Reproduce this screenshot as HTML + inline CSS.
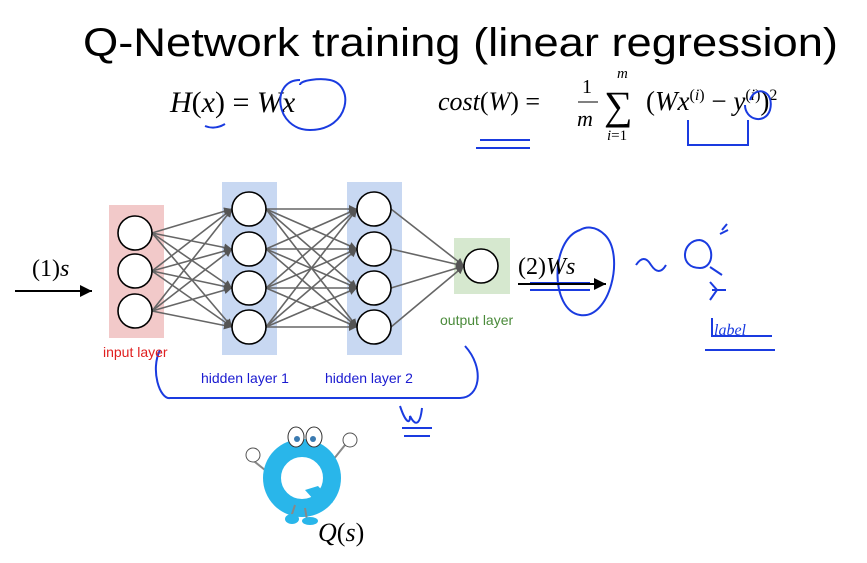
<!DOCTYPE html>
<html><head><style>
body{margin:0;background:#fff;width:867px;height:563px;overflow:hidden}
svg{display:block}
.m{font-family:"Liberation Serif",serif;font-style:italic}
.r{font-family:"Liberation Serif",serif}
.s{font-family:"Liberation Sans",sans-serif}
</style></head><body>
<svg width="867" height="563" viewBox="0 0 867 563" xmlns="http://www.w3.org/2000/svg">
<defs><marker id="a" viewBox="0 0 10 10" refX="10" refY="5" markerWidth="5" markerHeight="5" orient="auto"><path d="M0,0L10,5L0,10z" fill="#555"/></marker>
<marker id="b" viewBox="0 0 10 10" refX="10" refY="5" markerWidth="6" markerHeight="6" orient="auto"><path d="M0,0L10,5L0,10z" fill="#000"/></marker></defs>
<text x="83" y="56" class="s" font-size="40" fill="#000" textLength="755" lengthAdjust="spacingAndGlyphs">Q-Network training (linear regression)</text>
<text x="170" y="112" font-size="30"><tspan class="m">H</tspan><tspan class="r">(</tspan><tspan class="m">x</tspan><tspan class="r">) = </tspan><tspan class="m">Wx</tspan></text>
<text x="438" y="110" font-size="26"><tspan class="m">cost</tspan><tspan class="r">(</tspan><tspan class="m">W</tspan><tspan class="r">) =</tspan></text>
<text x="582" y="93" class="r" font-size="20">1</text><line x1="578" y1="102" x2="598" y2="102" stroke="#000"/>
<text x="577" y="126" class="m" font-size="22">m</text>
<text x="604" y="119" class="r" font-size="40">∑</text>
<text x="617" y="78" class="m" font-size="15">m</text>
<text x="607" y="140" font-size="15"><tspan class="m">i</tspan><tspan class="r">=1</tspan></text>
<text x="646" y="110" font-size="27"><tspan class="r">(</tspan><tspan class="m">Wx</tspan><tspan class="r" font-size="16" dy="-10">(</tspan><tspan class="m" font-size="16">i</tspan><tspan class="r" font-size="16">)</tspan><tspan class="r" dy="10"> − </tspan><tspan class="m">y</tspan><tspan class="r" font-size="16" dy="-10">(</tspan><tspan class="m" font-size="16">i</tspan><tspan class="r" font-size="16">)</tspan><tspan class="r" dy="10">)</tspan><tspan class="r" font-size="16" dy="-10">2</tspan></text>
<g fill="none" stroke="#1a3be0" stroke-width="2">
<path d="M205,126q10,4 20,-2"/><path d="M300,80c-30,0 -25,50 10,50c40,0 45,-45 20,-50c-10,-2 -30,0 -30,5"/>
<path d="M480,140h50M476,148h54"/><path d="M688,120v25h60v-25"/><path d="M750,100c5,-15 25,-10 20,10c-5,15 -25,10 -25,-5"/>
<path d="M580,230c-30,10 -30,80 0,85c30,5 45,-60 25,-80c-10,-10 -20,-8 -25,-5"/>
<path d="M530,283h60M530,290h60"/><path d="M636,265q8,-12 15,0q8,12 15,0"/>
<path d="M700,240c-18,0 -22,28 0,28c15,0 15,-25 0,-28M710,267l12,8M722,230l5,-6M720,234l8,-4"/>
<path d="M710,282l7,8l-7,10M712,290h14M712,318v18h60M705,350h70"/>
<path d="M160,350c-10,20 0,50 10,48h290c20,0 25,-30 5,-52"/>
<path d="M400,406c5,15 10,20 10,10c5,10 10,10 12,-8M402,428h30M404,436h26"/>
</g>
<text x="714" y="335" font-size="16" fill="#1a3be0" font-style="italic" class="r">label</text>
<rect x="109" y="205" width="55" height="133" fill="#f2c9c9"/>
<rect x="222" y="182" width="55" height="173" fill="#c8d8f2"/>
<rect x="347" y="182" width="55" height="173" fill="#c8d8f2"/>
<rect x="454" y="238" width="56" height="56" fill="#d6e8cf"/>
<g stroke="#666" stroke-width="1.6" marker-end="url(#a)">
<line x1="152" y1="233" x2="232" y2="209"/><line x1="152" y1="233" x2="232" y2="249"/><line x1="152" y1="233" x2="232" y2="288"/><line x1="152" y1="233" x2="232" y2="327"/>
<line x1="152" y1="271" x2="232" y2="209"/><line x1="152" y1="271" x2="232" y2="249"/><line x1="152" y1="271" x2="232" y2="288"/><line x1="152" y1="271" x2="232" y2="327"/>
<line x1="152" y1="311" x2="232" y2="209"/><line x1="152" y1="311" x2="232" y2="249"/><line x1="152" y1="311" x2="232" y2="288"/><line x1="152" y1="311" x2="232" y2="327"/>
<line x1="266" y1="209" x2="357" y2="209"/><line x1="266" y1="209" x2="357" y2="249"/><line x1="266" y1="209" x2="357" y2="288"/><line x1="266" y1="209" x2="357" y2="327"/>
<line x1="266" y1="249" x2="357" y2="209"/><line x1="266" y1="249" x2="357" y2="249"/><line x1="266" y1="249" x2="357" y2="288"/><line x1="266" y1="249" x2="357" y2="327"/>
<line x1="266" y1="288" x2="357" y2="209"/><line x1="266" y1="288" x2="357" y2="249"/><line x1="266" y1="288" x2="357" y2="288"/><line x1="266" y1="288" x2="357" y2="327"/>
<line x1="266" y1="327" x2="357" y2="209"/><line x1="266" y1="327" x2="357" y2="249"/><line x1="266" y1="327" x2="357" y2="288"/><line x1="266" y1="327" x2="357" y2="327"/>
<line x1="391" y1="209" x2="464" y2="266"/><line x1="391" y1="249" x2="464" y2="266"/><line x1="391" y1="288" x2="464" y2="266"/><line x1="391" y1="327" x2="464" y2="266"/>
</g>
<g fill="#fff" stroke="#000" stroke-width="1.6">
<circle cx="135" cy="233" r="17"/><circle cx="135" cy="271" r="17"/><circle cx="135" cy="311" r="17"/>
<circle cx="249" cy="209" r="17"/><circle cx="249" cy="249" r="17"/><circle cx="249" cy="288" r="17"/><circle cx="249" cy="327" r="17"/>
<circle cx="374" cy="209" r="17"/><circle cx="374" cy="249" r="17"/><circle cx="374" cy="288" r="17"/><circle cx="374" cy="327" r="17"/>
<circle cx="481" cy="266" r="17"/>
</g>
<text x="103" y="357" class="s" font-size="14" fill="#e02020">input layer</text>
<text x="201" y="383" class="s" font-size="14" fill="#1a1ad0">hidden layer 1</text>
<text x="325" y="383" class="s" font-size="14" fill="#1a1ad0">hidden layer 2</text>
<text x="440" y="325" class="s" font-size="14" fill="#4a8a3a">output layer</text>
<text x="32" y="276" font-size="24"><tspan class="r">(1)</tspan><tspan class="m">s</tspan></text>
<line x1="15" y1="291" x2="92" y2="291" stroke="#000" stroke-width="2" marker-end="url(#b)"/>
<text x="518" y="274" font-size="24"><tspan class="r">(2)</tspan><tspan class="m">Ws</tspan></text>
<line x1="518" y1="284" x2="606" y2="284" stroke="#000" stroke-width="2" marker-end="url(#b)"/>
<g>
<path d="M265,470l-15,-12M325,470l20,-25" stroke="#888" stroke-width="2"/>
<circle cx="253" cy="455" r="7" fill="#fff" stroke="#555"/><circle cx="350" cy="440" r="7" fill="#fff" stroke="#555"/>
<circle cx="302" cy="478" r="30" fill="none" stroke="#29b6ea" stroke-width="18"/>
<path d="M305,490l18,20l10,-8l-15,-16z" fill="#29b6ea"/>
<ellipse cx="296" cy="437" rx="8" ry="10" fill="#fff" stroke="#333"/><ellipse cx="314" cy="437" rx="8" ry="10" fill="#fff" stroke="#333"/>
<circle cx="297" cy="439" r="3" fill="#3a7ab0"/><circle cx="313" cy="439" r="3" fill="#3a7ab0"/>
<path d="M295,505l-5,15M305,508l2,12" stroke="#888" stroke-width="2"/>
<ellipse cx="292" cy="519" rx="7" ry="5" fill="#29b6ea"/><ellipse cx="310" cy="521" rx="8" ry="4" fill="#29b6ea"/>
</g>
<text x="318" y="541" font-size="26"><tspan class="m">Q</tspan><tspan class="r">(</tspan><tspan class="m">s</tspan><tspan class="r">)</tspan></text>
</svg>
</body></html>
